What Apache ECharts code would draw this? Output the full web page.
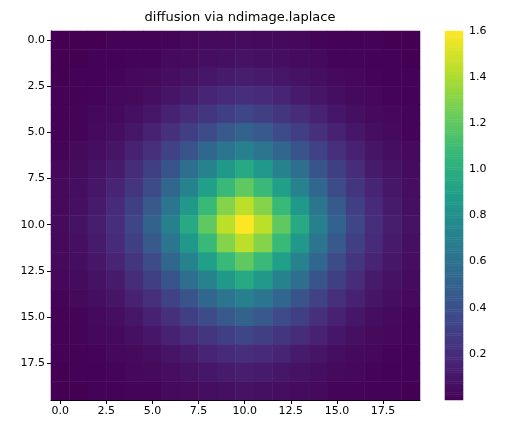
<!DOCTYPE html><html><head><meta charset="utf-8">
<script src="https://cdn.jsdelivr.net/npm/echarts@6/dist/echarts.min.js"></script>
<style>html,body{margin:0;padding:0;background:#fff}#c{width:505px;height:434px}</style></head><body><div id="c"></div><script>
const title = "diffusion via ndimage.laplace";
const tickLabels = [0, 2.5, 5, 7.5, 10, 12.5, 15, 17.5];
const colorTicks = [0.2,0.4,0.6,0.8,1.0,1.2,1.4,1.6];
const grid = [
[0.00,0.00,0.00,0.01,0.01,0.01,0.02,0.03,0.04,0.04,0.05,0.04,0.04,0.03,0.02,0.01,0.01,0.01,0.00,0.00],
[0.00,0.00,0.01,0.01,0.02,0.02,0.04,0.05,0.06,0.07,0.08,0.07,0.06,0.05,0.04,0.02,0.02,0.01,0.01,0.00],
[0.00,0.01,0.01,0.02,0.03,0.04,0.06,0.08,0.10,0.12,0.13,0.12,0.10,0.08,0.06,0.04,0.03,0.02,0.01,0.01],
[0.01,0.01,0.02,0.03,0.04,0.06,0.09,0.12,0.16,0.19,0.21,0.19,0.16,0.12,0.09,0.06,0.04,0.03,0.02,0.01],
[0.01,0.02,0.03,0.04,0.07,0.10,0.15,0.20,0.25,0.30,0.34,0.30,0.25,0.20,0.15,0.10,0.07,0.04,0.03,0.02],
[0.01,0.02,0.04,0.06,0.10,0.15,0.22,0.30,0.37,0.45,0.50,0.45,0.37,0.30,0.22,0.15,0.10,0.06,0.04,0.02],
[0.02,0.04,0.06,0.09,0.15,0.22,0.31,0.42,0.53,0.63,0.70,0.63,0.53,0.42,0.31,0.22,0.15,0.09,0.06,0.04],
[0.03,0.05,0.08,0.12,0.20,0.30,0.42,0.58,0.72,0.86,0.96,0.86,0.72,0.58,0.42,0.30,0.20,0.12,0.08,0.05],
[0.04,0.06,0.10,0.16,0.25,0.37,0.53,0.72,0.90,1.08,1.20,1.08,0.90,0.72,0.53,0.37,0.25,0.16,0.10,0.06],
[0.04,0.07,0.12,0.19,0.30,0.45,0.63,0.86,1.08,1.30,1.44,1.30,1.08,0.86,0.63,0.45,0.30,0.19,0.12,0.07],
[0.05,0.08,0.13,0.21,0.34,0.50,0.70,0.96,1.20,1.44,1.60,1.44,1.20,0.96,0.70,0.50,0.34,0.21,0.13,0.08],
[0.04,0.07,0.12,0.19,0.30,0.45,0.63,0.86,1.08,1.30,1.44,1.30,1.08,0.86,0.63,0.45,0.30,0.19,0.12,0.07],
[0.04,0.06,0.10,0.16,0.25,0.37,0.53,0.72,0.90,1.08,1.20,1.08,0.90,0.72,0.53,0.37,0.25,0.16,0.10,0.06],
[0.03,0.05,0.08,0.12,0.20,0.30,0.42,0.58,0.72,0.86,0.96,0.86,0.72,0.58,0.42,0.30,0.20,0.12,0.08,0.05],
[0.02,0.04,0.06,0.09,0.15,0.22,0.31,0.42,0.53,0.63,0.70,0.63,0.53,0.42,0.31,0.22,0.15,0.09,0.06,0.04],
[0.01,0.02,0.04,0.06,0.10,0.15,0.22,0.30,0.37,0.45,0.50,0.45,0.37,0.30,0.22,0.15,0.10,0.06,0.04,0.02],
[0.01,0.02,0.03,0.04,0.07,0.10,0.15,0.20,0.25,0.30,0.34,0.30,0.25,0.20,0.15,0.10,0.07,0.04,0.03,0.02],
[0.01,0.01,0.02,0.03,0.04,0.06,0.09,0.12,0.16,0.19,0.21,0.19,0.16,0.12,0.09,0.06,0.04,0.03,0.02,0.01],
[0.00,0.01,0.01,0.02,0.03,0.04,0.06,0.08,0.10,0.12,0.13,0.12,0.10,0.08,0.06,0.04,0.03,0.02,0.01,0.01],
[0.00,0.00,0.01,0.01,0.02,0.02,0.04,0.05,0.06,0.07,0.08,0.07,0.06,0.05,0.04,0.02,0.02,0.01,0.01,0.00]
];
const vmin = 0.0, vmax = 1.6;
const viridis = ['#440154','#482878','#3e4989','#31688e','#26828e','#1f9e89','#35b779','#6ece58','#b5de2b','#fde725'];

const idx = Array.from({length:20},(_,i)=>i);
const data = [];
grid.forEach((row,i)=>row.forEach((v,j)=>data.push([j,i,v])));
const cbN = 200, cbCats = [], cbData = [];
for(let k=0;k<cbN;k++){cbCats.push(k);cbData.push([0,k,vmin+(vmax-vmin)*(k+0.5)/cbN]);}
const font = {fontFamily:'DejaVu Sans',fontSize:11,color:'#000'};
const ax = {axisLine:{lineStyle:{color:'#000'}},axisTick:{lineStyle:{color:'#000'},length:4},axisLabel:Object.assign({},font,{margin:6}),splitLine:{show:false}};
const chart = echarts.init(document.getElementById('c'),null,{renderer:'canvas'});
chart.setOption({
  animation:false,
  title:{text:title,left:235,textAlign:'center',top:6,textStyle:{fontFamily:'DejaVu Sans',fontSize:13,fontWeight:'normal',color:'#000'}},
  grid:[{left:51,top:31,width:369,height:369},{left:445,top:31,width:18,height:369}],
  xAxis:[
    {type:'category',data:idx,gridIndex:0,show:false},
    Object.assign({type:'value',gridIndex:0,min:-0.5,max:19.5,position:'bottom',
      axisLabel:Object.assign({},ax.axisLabel,{customValues:tickLabels,formatter:v=>v.toFixed(1)}),
      axisTick:Object.assign({},ax.axisTick,{customValues:tickLabels})},{axisLine:ax.axisLine,splitLine:{show:false}}),
    {type:'category',data:[0],gridIndex:1,show:false}
  ],
  yAxis:[
    {type:'category',data:idx,gridIndex:0,inverse:true,show:false},
    Object.assign({type:'value',gridIndex:0,min:-0.5,max:19.5,inverse:true,position:'left',
      axisLabel:Object.assign({},ax.axisLabel,{customValues:tickLabels,formatter:v=>v.toFixed(1)}),
      axisTick:Object.assign({},ax.axisTick,{customValues:tickLabels})},{axisLine:ax.axisLine,splitLine:{show:false}}),
    {type:'category',data:cbCats,gridIndex:1,show:false},
    Object.assign({type:'value',gridIndex:1,min:vmin,max:vmax,position:'right',
      axisLabel:Object.assign({},ax.axisLabel,{customValues:colorTicks,formatter:v=>v.toFixed(1)}),
      axisTick:Object.assign({},ax.axisTick,{customValues:colorTicks})},{axisLine:{show:false},splitLine:{show:false}})
  ],
  visualMap:[{show:false,min:vmin,max:vmax,seriesIndex:[0,1],dimension:2,inRange:{color:viridis}}],
  series:[
    {type:'heatmap',xAxisIndex:0,yAxisIndex:0,data:data,itemStyle:{borderWidth:0}},
    {type:'heatmap',xAxisIndex:2,yAxisIndex:2,data:cbData,itemStyle:{borderWidth:0}}
  ]
});
</script></body></html>
